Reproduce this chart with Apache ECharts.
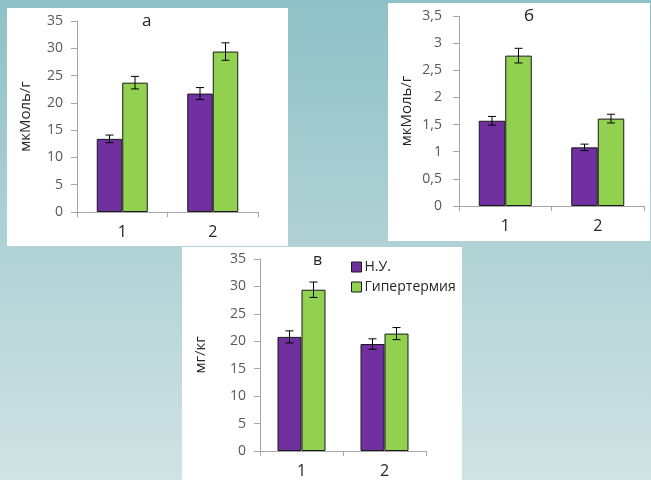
<!DOCTYPE html>
<html><head><meta charset="utf-8">
<script src="https://cdn.jsdelivr.net/npm/echarts@6/dist/echarts.min.js"></script>
<style>html,body{margin:0;padding:0;}#c{width:651px;height:480px;}</style>
</head><body><div id="c"></div>
<script>
const categories = ['1', '2'];
const seriesNames = ['Н.У.', 'Гипертермия'];
const panelTitles = ['а', 'б', 'в'];
const yNames = ['мкМоль/г', 'мкМоль/г', 'мг/кг'];
// panel а
const aNU = [13.4, 21.7], aNUerr = [0.7, 1.1];
const aHyp = [23.7, 29.4], aHypErr = [1.15, 1.6];
// panel б
const bNU = [1.57, 1.08], bNUerr = [0.08, 0.06];
const bHyp = [2.77, 1.61], bHypErr = [0.135, 0.08];
// panel в
const cNU = [20.8, 19.5], cNUerr = [1.1, 0.95];
const cHyp = [29.4, 21.4], cHypErr = [1.4, 1.1];
const yMax = [35, 3.5, 35], yStep = [5, 0.5, 5];

const FONT = 'Open Sans';
const PURPLE = '#7030a0', GREEN = '#92d050';
const grids = [
  {left: 77, top: 21, width: 181, height: 191},
  {left: 459, top: 16, width: 185, height: 190},
  {left: 260, top: 259, width: 166, height: 192}
];
const barW = [25.5, 26.5, 24];
const nameGaps = [44, 45, 52];
const labelMargins = [14, 17, 14];
const panelData = [
  [aNU, aNUerr, aHyp, aHypErr],
  [bNU, bNUerr, bHyp, bHypErr],
  [cNU, cNUerr, cHyp, cHypErr]
];

const xAxis = [], yAxis = [], series = [];
grids.forEach((g, i) => {
  xAxis.push({
    type: 'category', gridIndex: i, data: categories,
    axisLine: {lineStyle: {color: '#a6a6a6', width: 1}},
    axisTick: {show: true, length: 5, lineStyle: {color: '#a6a6a6'}},
    axisLabel: {fontFamily: FONT, fontSize: 16, color: '#262626', margin: 12}
  });
  yAxis.push({
    type: 'value', gridIndex: i, min: 0, max: yMax[i], interval: yStep[i],
    name: yNames[i], nameLocation: 'middle', nameGap: nameGaps[i], nameRotate: 90,
    nameTextStyle: {fontFamily: FONT, fontSize: 15, color: '#262626'},
    axisLine: {show: true, lineStyle: {color: '#a6a6a6', width: 1}},
    axisTick: {show: true, length: 6, lineStyle: {color: '#a6a6a6'}},
    splitLine: {show: false},
    axisLabel: {fontFamily: FONT, fontSize: 14, color: '#595959', margin: labelMargins[i],
      formatter: v => String(v).replace('.', ',')}
  });
  const [nu, nuErr, hyp, hypErr] = panelData[i];
  const w = barW[i];
  series.push({
    name: seriesNames[0], type: 'bar', xAxisIndex: i, yAxisIndex: i, data: nu,
    barWidth: w, barGap: '0%',
    itemStyle: {color: PURPLE, borderColor: '#1a1a1a', borderWidth: 1}
  });
  series.push({
    name: seriesNames[1], type: 'bar', xAxisIndex: i, yAxisIndex: i, data: hyp,
    barWidth: w, barGap: '0%',
    itemStyle: {color: GREEN, borderColor: '#1a1a1a', borderWidth: 1}
  });
  [[nu, nuErr, -1], [hyp, hypErr, 1]].forEach(([vals, errs, side]) => {
    series.push({
      type: 'custom', xAxisIndex: i, yAxisIndex: i, z: 10,
      data: vals.map((v, k) => [k, v, errs[k]]),
      renderItem: (params, api) => {
        const k = api.value(0), v = api.value(1), e = api.value(2);
        const top = api.coord([k, v + e]);
        const bot = api.coord([k, v - e]);
        const x = top[0] + side * w / 2;
        const cap = 4;
        const st = {stroke: '#000', lineWidth: 1};
        return {type: 'group', children: [
          {type: 'line', shape: {x1: x, y1: top[1], x2: x, y2: bot[1]}, style: st},
          {type: 'line', shape: {x1: x - cap, y1: top[1], x2: x + cap, y2: top[1]}, style: st},
          {type: 'line', shape: {x1: x - cap, y1: bot[1], x2: x + cap, y2: bot[1]}, style: st}
        ]};
      }
    });
  });
});

const chart = echarts.init(document.getElementById('c'));
chart.setOption({
  animation: false,
  backgroundColor: new echarts.graphic.LinearGradient(0, 0, 0, 1, [
    {offset: 0, color: '#8ec1c6'}, {offset: 1, color: '#d1e2e4'}
  ]),
  graphic: [
    {type: 'rect', shape: {x: 7, y: 8, width: 281, height: 238}, style: {fill: '#fff'}, z: -10},
    {type: 'rect', shape: {x: 388, y: 3, width: 262, height: 238}, style: {fill: '#fff'}, z: -10},
    {type: 'rect', shape: {x: 182, y: 247, width: 280, height: 233}, style: {fill: '#fff'}, z: -10},
    {type: 'text', left: 142, top: 13, style: {text: panelTitles[0], font: '17px ' + FONT, fill: '#262626'}},
    {type: 'text', left: 524, top: 8, style: {text: panelTitles[1], font: '17px ' + FONT, fill: '#262626'}},
    {type: 'text', left: 313, top: 252, style: {text: panelTitles[2], font: '16px ' + FONT, fill: '#262626'}}
  ],
  legend: {
    data: seriesNames, orient: 'vertical', left: 346, top: 255,
    itemWidth: 10, itemHeight: 10, itemGap: 6,
    icon: 'rect',
    textStyle: {fontFamily: FONT, fontSize: 14, color: '#262626', padding: [0, 0, 0, -2]},
    itemStyle: {borderColor: '#1a1a1a', borderWidth: 1}
  },
  grid: grids,
  xAxis: xAxis,
  yAxis: yAxis,
  series: series
});
</script>
</body></html>
